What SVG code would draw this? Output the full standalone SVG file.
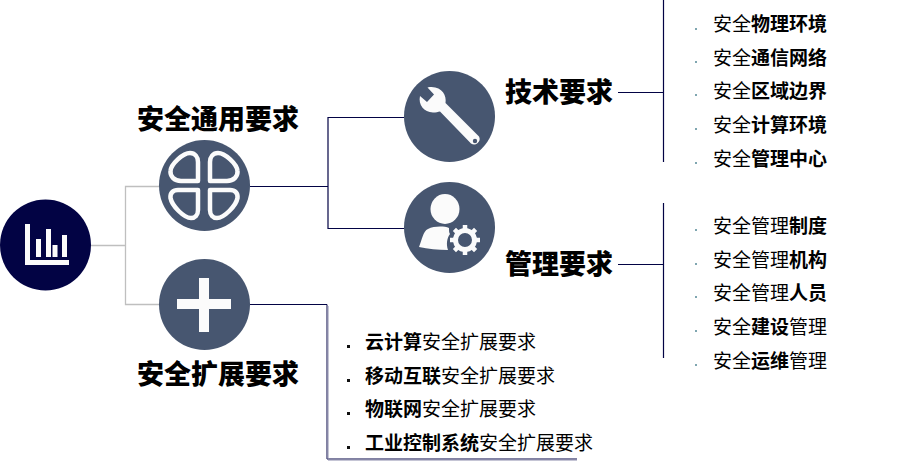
<svg xmlns="http://www.w3.org/2000/svg" width="909" height="466" viewBox="0 0 909 466">
<style>
text{font-family:"Noto Sans CJK SC","Liberation Sans",sans-serif;fill:#000}
.h{font-size:27px;font-weight:900}
.l{font-size:19px;font-weight:400}
.l tspan{font-weight:700}
.c{fill:#475670}
.g{fill:none;stroke:#bfbfbf;stroke-width:1.3}
.n{fill:none;stroke:#020344;stroke-width:1.2}
.w{fill:#fbfbfb}
.o{fill:none;stroke:#fbfbfb;stroke-width:4.5;stroke-linejoin:round}
.d1{fill:#7fa6b0}
.d2{fill:#111}
</style>
<rect width="909" height="466" fill="#fff"/>
<g id="connectors">
<path class="g" d="M91 245.500H125.500M159 186.500H125.500V304.500H159"/>
<path class="n" d="M250 186.500H328M404 117.500H328V228.500H404"/>
<path d="M250 304.500H327V459H577" fill="none" stroke="#020344" stroke-width="1"/>
<path d="M328 306V460H577" fill="none" stroke="#8c8cab" stroke-width="1"/>
<path class="n" d="M618 92.500H664M663.500 0V162M618 264.500H664M663.500 203V358"/>
</g>
<g id="root">
<circle cx="45.500" cy="245" r="45.500" fill="#020344"/>
<path class="w" d="M25 224h5v36h39v5H25zM36 239h5v18h-5zM46 229h5v28h-5zM52.500 245h5v12h-5zM62 235h5v22h-5z"/>
</g>
<g id="general">
<text class="h" x="137" y="129">安全通用要求</text>
<circle class="c" cx="204.500" cy="185.500" r="45.500"/>
<path class="o" d="M198 181H181C174 181 170 176 170.500 171C171 164 183 153 190 153C195 153 198 157 198 162Z"/>
<path class="o" d="M210 181H227C234 181 238 176 237.500 171C237 164 225 153 218 153C213 153 210 157 210 162Z"/>
<path class="o" d="M198 190H178C173 190 170 193 170.500 198C172 206 184 218 191 218C195 218 198 215 198 210Z"/>
<path class="o" d="M210 190H230C235 190 238 193 237.500 198C236 206 224 218 217 218C213 218 210 215 210 210Z"/>
</g>
<g id="extension">
<circle class="c" cx="204.500" cy="304.500" r="45.500"/>
<path class="w" d="M199 278H209V299H231V309H209V332H199V309H177V299H199Z"/>
<text class="h" x="137" y="384">安全扩展要求</text>
</g>
<g id="tech">
<circle class="c" cx="449.500" cy="116.500" r="45.500"/>
<path class="w" d="M427.500 87.500L434 94.500L427 102L420 96C418 105 424 112 433 112.500C436 112.500 438 112 440 111.500L471 143.500A5.500 5.500 0 0 0 479 136.500L445.500 103C447 95 441 85 427.500 87.500Z"/>
<circle cx="475" cy="141" r="2.200" fill="#475670"/>
<text class="h" x="505" y="102">技术要求</text>
</g>
<g id="mgmt">
<circle class="c" cx="449.500" cy="227.500" r="45.500"/>
<ellipse class="w" cx="445" cy="209" rx="14.500" ry="15"/>
<path class="w" d="M419 247C422 240 423 231 428 229C434 226 444 226 449 228C449 231 449 233 450 234C447 238 446 244 448 250C438 250 428 249 419 247Z"/>
<circle cx="465" cy="240" r="9.500" fill="none" stroke="#fbfbfb" stroke-width="5"/>
<path fill="none" stroke="#fbfbfb" stroke-width="4.500" d="M465 225v5M465 250v5M450 240h5M475 240h5M454.400 229.400l3.500 3.500M472.100 247.100l3.500 3.500M454.400 250.600l3.500-3.500M472.100 232.900l3.500-3.500"/>
<text class="h" x="505" y="274">管理要求</text>
</g>
<g id="tech-items">
<rect class="d1" x="695" y="28" width="2" height="2"/><text class="l" x="713" y="31">安全<tspan>物理环境</tspan></text>
<rect class="d1" x="695" y="61" width="2" height="2"/><text class="l" x="713" y="65">安全<tspan>通信网络</tspan></text>
<rect class="d1" x="695" y="94" width="2" height="2"/><text class="l" x="713" y="98">安全<tspan>区域边界</tspan></text>
<rect class="d1" x="695" y="128" width="2" height="2"/><text class="l" x="713" y="132">安全<tspan>计算环境</tspan></text>
<rect class="d1" x="695" y="162" width="2" height="2"/><text class="l" x="713" y="166">安全<tspan>管理中心</tspan></text>
</g>
<g id="mgmt-items">
<rect class="d1" x="695" y="229" width="2" height="2"/><text class="l" x="713" y="233">安全管理<tspan>制度</tspan></text>
<rect class="d1" x="695" y="263" width="2" height="2"/><text class="l" x="713" y="267">安全管理<tspan>机构</tspan></text>
<rect class="d1" x="695" y="296" width="2" height="2"/><text class="l" x="713" y="300">安全管理<tspan>人员</tspan></text>
<rect class="d1" x="695" y="330" width="2" height="2"/><text class="l" x="713" y="334">安全<tspan>建设</tspan>管理</text>
<rect class="d1" x="695" y="364" width="2" height="2"/><text class="l" x="713" y="368">安全<tspan>运维</tspan>管理</text>
</g>
<g id="ext-items">
<rect class="d2" x="347" y="345" width="3" height="3"/><text class="l" x="365" y="349"><tspan>云计算</tspan>安全扩展要求</text>
<rect class="d2" x="347" y="379" width="3" height="3"/><text class="l" x="365" y="383"><tspan>移动互联</tspan>安全扩展要求</text>
<rect class="d2" x="347" y="412" width="3" height="3"/><text class="l" x="365" y="416"><tspan>物联网</tspan>安全扩展要求</text>
<rect class="d2" x="347" y="446" width="3" height="3"/><text class="l" x="365" y="450"><tspan>工业控制系统</tspan>安全扩展要求</text>
</g>
</svg>
